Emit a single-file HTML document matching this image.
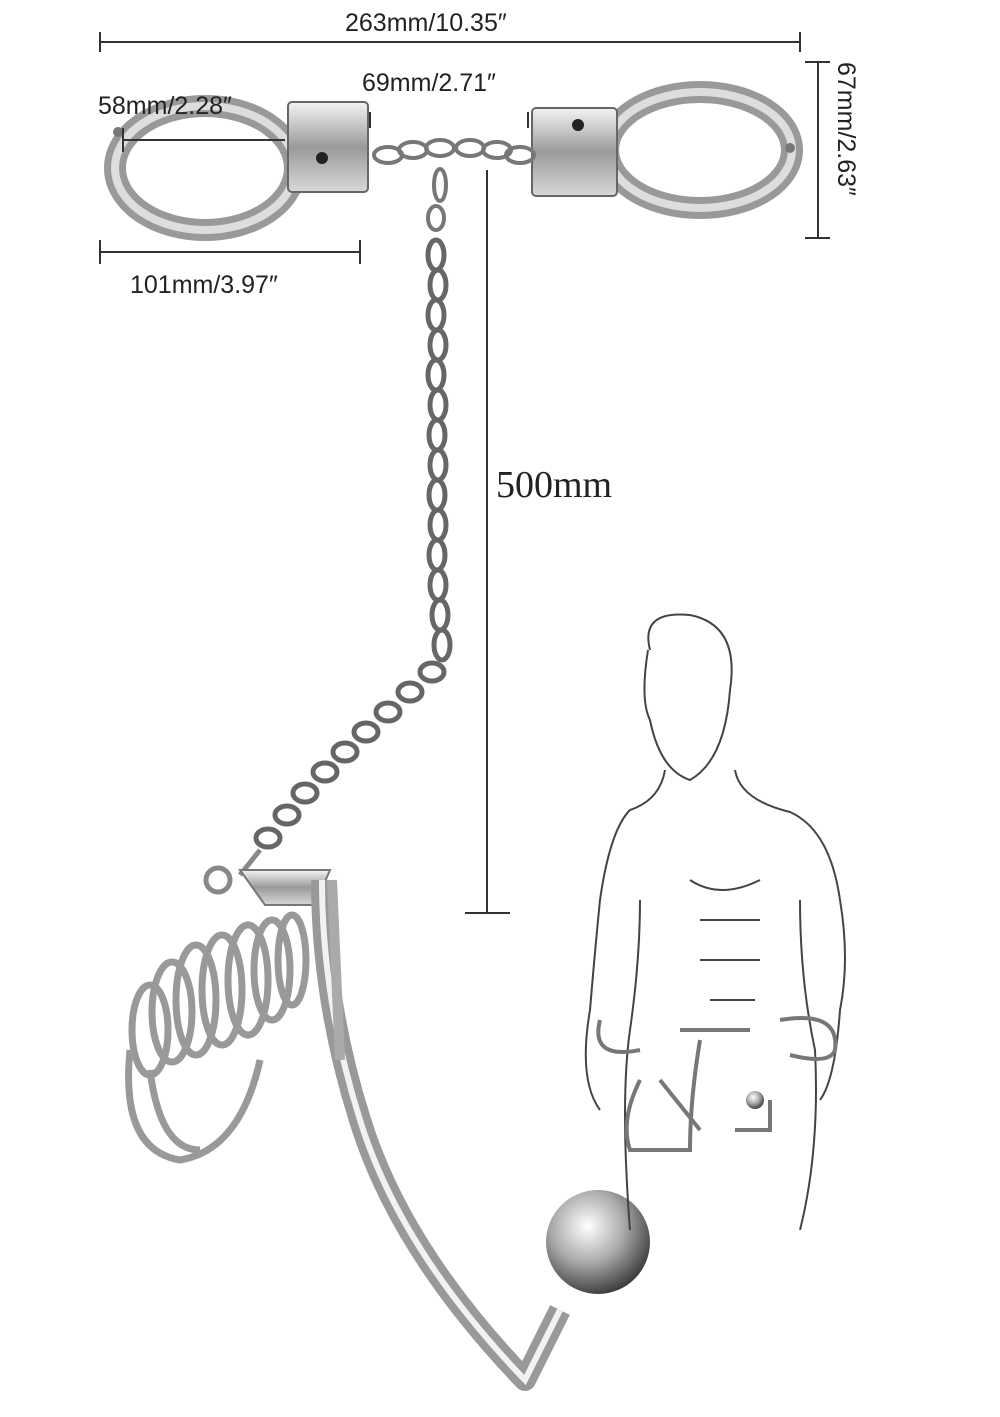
<!DOCTYPE html>
<html><head><meta charset="utf-8"><style>
html,body{margin:0;padding:0;background:#fff;width:1000px;height:1417px;overflow:hidden}
svg{display:block}
</style></head><body>
<svg width="1000" height="1417" viewBox="0 0 1000 1417" xmlns="http://www.w3.org/2000/svg">
<defs>
<linearGradient id="m" x1="0" y1="0" x2="0" y2="1"><stop offset="0" stop-color="#f4f4f4"/><stop offset="0.5" stop-color="#9a9a9a"/><stop offset="1" stop-color="#d8d8d8"/></linearGradient>
<radialGradient id="b" cx="0.4" cy="0.35" r="0.7"><stop offset="0" stop-color="#fff"/><stop offset="0.5" stop-color="#aaa"/><stop offset="1" stop-color="#333"/></radialGradient>
</defs>
<!-- handcuffs -->
<ellipse cx="205" cy="168" rx="90" ry="62" fill="none" stroke="#999" stroke-width="22"/>
<ellipse cx="205" cy="168" rx="90" ry="62" fill="none" stroke="#ddd" stroke-width="8"/>
<ellipse cx="700" cy="150" rx="92" ry="58" fill="none" stroke="#999" stroke-width="22"/>
<ellipse cx="700" cy="150" rx="92" ry="58" fill="none" stroke="#ddd" stroke-width="8"/>
<g stroke="#666" stroke-width="2">
<rect x="288" y="102" width="80" height="90" rx="4" fill="url(#m)"/>
<rect x="532" y="108" width="85" height="88" rx="4" fill="url(#m)"/>
</g>
<circle cx="322" cy="158" r="6" fill="#222"/><circle cx="578" cy="125" r="6" fill="#222"/>
<circle cx="118" cy="132" r="5" fill="#777"/><circle cx="790" cy="148" r="5" fill="#777"/>
<g fill="none" stroke="#777" stroke-width="4">
<ellipse cx="388" cy="155" rx="14" ry="8"/><ellipse cx="413" cy="150" rx="14" ry="8"/><ellipse cx="440" cy="148" rx="14" ry="8"/><ellipse cx="470" cy="148" rx="14" ry="8"/><ellipse cx="497" cy="150" rx="14" ry="8"/><ellipse cx="520" cy="155" rx="14" ry="8"/>
<ellipse cx="440" cy="185" rx="6" ry="16"/><ellipse cx="436" cy="218" rx="8" ry="12"/>
</g>
<g fill="none" stroke="#666" stroke-width="5">
<ellipse cx="436" cy="255" rx="8" ry="15"/><ellipse cx="438" cy="285" rx="8" ry="15"/><ellipse cx="436" cy="315" rx="8" ry="15"/><ellipse cx="438" cy="345" rx="8" ry="15"/><ellipse cx="436" cy="375" rx="8" ry="15"/><ellipse cx="438" cy="405" rx="8" ry="15"/><ellipse cx="437" cy="435" rx="8" ry="15"/><ellipse cx="438" cy="465" rx="8" ry="15"/><ellipse cx="437" cy="495" rx="8" ry="15"/><ellipse cx="438" cy="525" rx="8" ry="15"/><ellipse cx="437" cy="555" rx="8" ry="15"/><ellipse cx="438" cy="585" rx="8" ry="15"/><ellipse cx="440" cy="615" rx="8" ry="15"/><ellipse cx="442" cy="645" rx="8" ry="15"/>
<ellipse cx="432" cy="672" rx="12" ry="9"/><ellipse cx="410" cy="692" rx="12" ry="9"/><ellipse cx="388" cy="712" rx="12" ry="9"/><ellipse cx="366" cy="732" rx="12" ry="9"/><ellipse cx="345" cy="752" rx="12" ry="9"/><ellipse cx="325" cy="772" rx="12" ry="9"/><ellipse cx="305" cy="793" rx="12" ry="9"/><ellipse cx="287" cy="815" rx="12" ry="9"/><ellipse cx="268" cy="838" rx="12" ry="9"/>
</g>
<path d="M260 850 L240 875" stroke="#888" stroke-width="5"/>
<circle cx="218" cy="880" r="12" fill="none" stroke="#888" stroke-width="5"/>
<!-- cage -->
<g fill="none" stroke="#999" stroke-width="7">
<path d="M240 870 H330 L315 905 H265Z" fill="url(#m)" stroke="#777" stroke-width="2"/>
<ellipse cx="292" cy="960" rx="14" ry="45"/><ellipse cx="272" cy="970" rx="18" ry="50"/><ellipse cx="248" cy="980" rx="20" ry="55"/><ellipse cx="222" cy="990" rx="20" ry="55"/><ellipse cx="196" cy="1000" rx="20" ry="55"/><ellipse cx="172" cy="1012" rx="20" ry="50"/><ellipse cx="150" cy="1030" rx="18" ry="45"/>
<path d="M130 1050 Q120 1150 180 1160 Q240 1150 260 1060"/>
<path d="M150 1070 Q160 1150 200 1150"/>
</g>
<!-- hook -->
<path d="M322 880 Q322 1000 360 1120 Q400 1250 525 1380 L560 1310" fill="none" stroke="#999" stroke-width="22" stroke-linejoin="round"/>
<path d="M322 880 Q322 1000 360 1120 Q400 1250 525 1380 L560 1310" fill="none" stroke="#f2f2f2" stroke-width="6"/>
<path d="M332 880 L340 1060" fill="none" stroke="#aaa" stroke-width="10"/>
<circle cx="598" cy="1242" r="52" fill="url(#b)"/>
<!-- figure -->
<g fill="none" stroke="#444" stroke-width="2">
<path d="M650 650 Q640 610 690 615 Q740 625 730 690 Q725 760 690 780 Q660 770 650 720 Q640 700 648 650"/>
<path d="M665 770 Q660 800 630 810 Q610 830 600 900 Q595 950 590 1010 Q578 1080 600 1110"/>
<path d="M735 770 Q740 800 790 812 Q830 830 840 900 Q850 960 840 1010 Q835 1080 820 1100"/>
<path d="M640 900 Q640 960 630 1030 Q620 1100 630 1230"/>
<path d="M800 900 Q800 980 815 1050 Q820 1150 800 1230"/>
<path d="M690 880 Q720 900 760 880M700 920H760M700 960H760M710 1000H755"/>
</g>
<g stroke="#777" stroke-width="4" fill="none">
<path d="M600 1020 Q590 1060 640 1050 M680 1030 H750 M780 1020 Q840 1010 835 1050 Q830 1065 790 1055"/>
<path d="M700 1040 Q690 1100 690 1150 H630 Q620 1120 640 1080"/>
<path d="M660 1080 L700 1130 M735 1130 H770 V1100"/>
</g>
<circle cx="755" cy="1100" r="9" fill="url(#b)"/>
<!-- dimensions on top -->
<g stroke="#333" stroke-width="2" fill="none">
<path d="M100 42H800M100 32V52M800 32V52"/>
<path d="M805 62H830M818 62V238M805 238H830"/>
<path d="M100 252H360M100 240V264M360 240V264"/>
<path d="M370 112V128M528 112V128"/>
<path d="M487 170V913M465 913H510"/>
<path d="M123 140H285M123 128V152"/>
</g>
<g font-family="Liberation Sans, sans-serif" font-size="25" fill="#222">
<text x="345" y="31">263mm/10.35″</text>
<text x="98" y="114">58mm/2.28″</text>
<text x="362" y="91">69mm/2.71″</text>
<text x="130" y="293">101mm/3.97″</text>
<text transform="translate(838,62) rotate(90)">67mm/2.63″</text>
</g>
<text x="496" y="497" font-family="Liberation Serif, serif" font-size="38" fill="#222">500mm</text>
</svg>
</body></html>
